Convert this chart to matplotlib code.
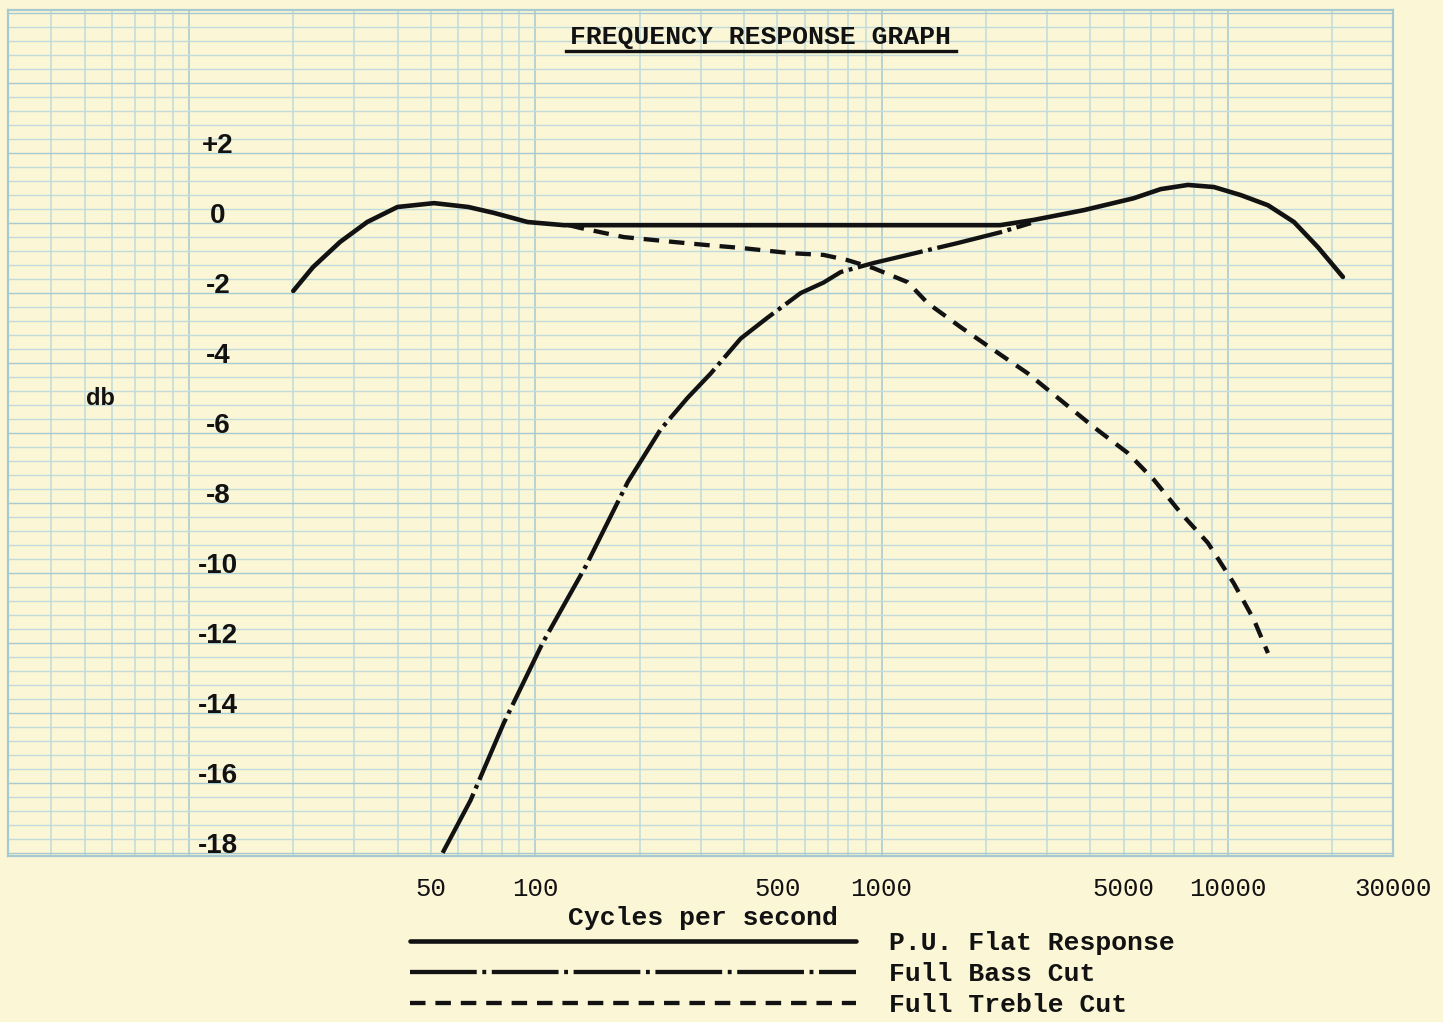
import matplotlib
matplotlib.use('Agg')
import matplotlib.pyplot as plt
from matplotlib.lines import Line2D
from matplotlib.ticker import NullLocator
import numpy as np

# --- data (Hz, dB) ---
flat_freq = [20, 22.8, 27.3, 32.7, 40, 51, 64, 76, 95, 121, 154, 500, 1000,
             2200, 2750, 3840, 5350, 6400, 7670, 9120, 10900, 13060, 15530, 18210, 21500]
flat_db = [-2.14, -1.46, -0.74, -0.17, 0.26, 0.37, 0.26, 0.09, -0.17, -0.26, -0.26, -0.26, -0.26,
           -0.26, -0.11, 0.17, 0.51, 0.77, 0.89, 0.83, 0.6, 0.31, -0.17, -0.89, -1.74]

bass_freq = [54, 65, 81, 105, 140, 185, 230, 275, 321, 392, 469, 584, 680, 762,
             949, 1190, 1660, 2210, 2700]
bass_db = [-18.2, -16.7, -14.5, -12.2, -10.0, -7.6, -6.1, -5.2, -4.5, -3.5, -2.9, -2.2, -1.9, -1.6,
           -1.34, -1.11, -0.77, -0.46, -0.2]

treble_freq = [125, 135, 180, 251, 314, 392, 546, 680, 798, 949, 1190, 1360, 1690, 2110,
               2640, 3290, 4100, 5140, 6120, 7320, 8760, 10400, 11900, 13060]
treble_db = [-0.26, -0.34, -0.6, -0.74, -0.83, -0.91, -1.06, -1.11, -1.26, -1.49, -1.89, -2.49, -3.17, -3.83,
             -4.49, -5.26, -6.03, -6.77, -7.54, -8.49, -9.34, -10.49, -11.54, -12.49]

db_values = [2, 0, -2, -4, -6, -8, -10, -12, -14, -16, -18]
db_texts = ['+2', '0', '-2', '-4', '-6', '-8', '-10', '-12', '-14', '-16', '-18']
freq_ticks = [50, 100, 500, 1000, 5000, 10000, 30000]
freq_labels = ['50', '100', '500', '1000', '5000', '10000', '30000']
series_labels = ['P.U. Flat Response', 'Full Bass Cut', 'Full Treble Cut']

PAPER = '#fbf6d6'
GRID = '#c0dbdb'
GRID_DARK = '#a6cacf'
INK = '#121212'
TYPE = 'Liberation Mono'

fig = plt.figure(figsize=(14.43, 10.22), dpi=100, facecolor=PAPER)
ax = fig.add_axes([8 / 1443, 1 - 856 / 1022, 1385 / 1443, 846 / 1022])
ax.set_facecolor(PAPER)
ax.set_xscale('log')
ax.set_xlim(3, 30000)
ax.set_ylim(-18.29, 5.89)

# graph paper: log cycles across, 0.4 dB rulings down
for dec in [1, 10, 100, 1000, 10000]:
    for m in range(1, 10):
        f = m * dec
        if 3 <= f <= 30000:
            ax.axvline(f, color=GRID_DARK if m == 1 else GRID, lw=1.1, zorder=0)
for k in range(-45, 16):
    ax.axhline(-0.2 + 0.4 * k, color=GRID_DARK if k % 5 == 0 else GRID,
               lw=1.0, zorder=0)
for s in ax.spines.values():
    s.set_color(GRID_DARK)
    s.set_linewidth(1.6)

l1, = ax.plot(flat_freq, flat_db, color=INK, lw=3.3,
              solid_capstyle='round', solid_joinstyle='round')
l2, = ax.plot(bass_freq, bass_db, color=INK, lw=3.1,
              linestyle=(0, (15.5, 1.3, 0.9, 1.3)), solid_joinstyle='round')
l3, = ax.plot(treble_freq, treble_db, color=INK, lw=3.1,
              linestyle=(0, (3.6, 2.3)))

# axis labelling
ax.set_xticks(freq_ticks, freq_labels)
ax.xaxis.set_minor_locator(NullLocator())
ax.set_yticks([])
ax.tick_params(axis='x', length=0, pad=15, labelsize=18.5, labelcolor=INK)
for t in ax.get_xticklabels():
    t.set_fontfamily(TYPE)

# dB figures are typed inside the grid
for v, s in zip(db_values, db_texts):
    ax.text(0.1516, v, s, transform=ax.get_yaxis_transform(), ha='center', va='center',
            fontsize=20, fontweight='bold', family='Liberation Sans', color=INK)
fig.text(100 / 1443, 1 - 398 / 1022, 'db', ha='center', va='center',
         fontsize=17, fontweight='bold', family='Liberation Sans', color=INK)

fig.text(761 / 1443, 1 - 37 / 1022, 'FREQUENCY RESPONSE GRAPH', ha='center', va='center',
         fontsize=19, fontweight='bold', family=TYPE, color=INK)
fig.add_artist(Line2D([566 / 1443, 956 / 1443], [1 - 51 / 1022] * 2,
                      transform=fig.transFigure, color=INK, lw=2.4))

fig.text(703 / 1443, 1 - 918 / 1022, 'Cycles per second', ha='center', va='center',
         fontsize=19, fontweight='bold', family=TYPE, color=INK)

leg = ax.legend([l1, l2, l3], series_labels, loc='upper left',
                bbox_to_anchor=(410 / 1443, 1 - 931 / 1022), bbox_transform=fig.transFigure,
                frameon=False, handlelength=16.9, handletextpad=1.25, labelspacing=0.27,
                borderpad=0, borderaxespad=0,
                prop={'family': TYPE, 'weight': 'bold', 'size': 19})
for t in leg.get_texts():
    t.set_color(INK)

fig.savefig('out.png', dpi=100, facecolor=PAPER)
